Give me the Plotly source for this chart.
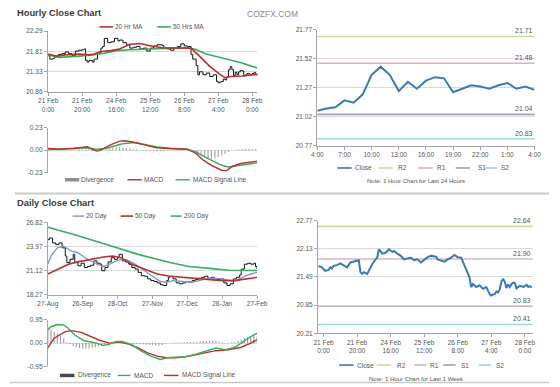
import plotly.graph_objects as go

W, H = 560, 387
FONT = "Arial, 'Liberation Sans', Helvetica, sans-serif"

# ---------------- data ----------------
# Hourly close, last week (hour index: 0 = 21 Feb 0:00, trading hours)
week_idx = [-3, -1, 1, 3, 4, 5, 6, 8, 10, 12, 14, 16, 18, 20, 21, 22, 23, 24, 26, 27,
            29, 31, 32, 33, 35, 37, 39, 41, 42, 44, 46, 48, 50, 52, 54, 56, 58, 60, 62, 64,
            67, 68, 70, 72, 74, 76, 78, 80, 82, 84, 85, 87, 88, 89, 91, 93, 95, 97, 99,
            100, 101, 102, 103, 104, 105, 106, 107, 108, 109, 110, 111, 112, 113, 114, 115,
            116, 117, 118, 119, 120, 121, 122, 123, 124]
week_close = [21.74, 21.71, 21.63, 21.65, 21.71, 21.68, 21.74, 21.76, 21.80, 21.76,
              21.71, 21.82, 21.84, 21.85, 21.87, 21.60, 21.56, 21.60, 21.56, 21.63,
              21.78, 21.89, 21.93, 22.12, 22.02, 22.04, 22.12, 22.06, 22.08, 22.02,
              21.97, 21.89, 21.91, 21.93, 21.87, 21.89, 21.82, 21.89, 21.94, 21.97,
              21.95, 21.89, 21.87, 21.84, 21.89, 21.93, 21.99, 21.94, 21.93, 21.74,
              21.63, 21.48, 21.26, 21.33, 21.26, 21.30, 21.22, 21.26, 21.10,
              21.07, 21.09, 21.10, 21.16, 21.14, 21.21, 21.38, 21.45, 21.38, 21.24,
              21.32, 21.26, 21.33, 21.36, 21.35, 21.23, 21.26, 21.29, 21.28, 21.26,
              21.29, 21.31, 21.26, 21.28, 21.25]
week_tickvals = [0, 20, 40, 60, 80, 100, 120]
week_ticktext = ["21 Feb<br>0:00", "21 Feb<br>20:00", "24 Feb<br>16:00", "25 Feb<br>12:00",
                 "26 Feb<br>8:00", "27 Feb<br>4:00", "28 Feb<br>0:00"]

ma20_idx = [0, 5, 10, 18, 24, 27, 31, 37, 42, 48, 54, 59, 67, 73, 80, 84, 90, 95, 101, 104, 107, 114, 123]
ma20_val = [21.75, 21.70, 21.73, 21.75, 21.73, 21.75, 21.81, 21.83, 21.87, 21.98, 22.00, 21.95,
            21.90, 21.90, 21.90, 21.89, 21.66, 21.46, 21.27, 21.19, 21.22, 21.23, 21.27]
ma50_idx = [0, 7, 18, 25, 33, 40, 48, 56, 61, 73, 80, 86, 93, 103, 114, 123]
ma50_val = [21.73, 21.67, 21.70, 21.72, 21.77, 21.83, 21.85, 21.87, 21.87, 21.89, 21.90, 21.87,
            21.75, 21.65, 21.54, 21.42]

hmacd_idx = [0, 6, 15, 23, 27, 29, 32, 36, 42, 45, 49, 57, 64, 72, 78, 82, 87, 91, 96, 102, 105, 108, 113, 123]
hmacd_val = [0.017, 0.010, 0.017, 0.034, 0.0, -0.010, 0.010, 0.05, 0.093, 0.096, 0.086, 0.05,
             0.024, 0.017, 0.017, 0.010, -0.034, -0.10, -0.155, -0.206, -0.21, -0.17, -0.137, -0.113]
hsig_idx = [0, 15, 23, 28, 34, 42, 45, 51, 57, 64, 72, 81, 87, 94, 102, 106, 113, 123]
hsig_val = [0.007, 0.014, 0.024, 0.010, 0.017, 0.058, 0.069, 0.079, 0.058, 0.034, 0.017, 0.010,
            -0.017, -0.086, -0.155, -0.172, -0.155, -0.13]
hdiv_idx = [0, 2, 4, 6, 8, 10, 12, 14, 16, 18, 20, 22, 24, 26, 28, 30, 32, 34, 36, 38, 40,
            42, 44, 46, 48, 50, 52, 54, 56, 58, 60, 62, 64, 66, 68, 70, 72, 74, 76, 78, 80,
            82, 84, 86, 88, 90, 92, 94, 96, 98, 100, 102, 104, 106, 108, 110, 112, 114, 116,
            118, 120, 122]
hdiv_val = [0.01, 0.005, 0.0, 0.005, 0.005, 0.0, 0.0, 0.0, 0.005, 0.005, 0.01, 0.01, 0.01,
            -0.01, -0.015, -0.01, 0.0, 0.01,
            0.02, 0.025, 0.03, 0.03, 0.028, 0.025, 0.02, 0.015, 0.01,
            0.0, -0.005, -0.01, -0.012, -0.015, -0.015, -0.012, -0.01, -0.005, 0.0, 0.0, 0.005, 0.005,
            0.0, -0.01, -0.02, -0.035, -0.05, -0.065, -0.075, -0.085, -0.09, -0.085, -0.07,
            -0.055, -0.04, -0.02, 0.0, 0.005, 0.01, 0.015, 0.015, 0.015, 0.015, 0.012]

# Last 24 hours (4:00 -> 4:00)
h24_idx = [0, 1, 2, 3, 4, 5, 6, 7, 8, 9, 10, 11, 12, 13, 14, 15, 16, 17, 18, 19, 20, 21, 22, 23, 24]
h24_close = [21.07, 21.09, 21.10, 21.16, 21.14, 21.21, 21.38, 21.45, 21.38, 21.24, 21.32, 21.26,
             21.33, 21.36, 21.35, 21.23, 21.26, 21.29, 21.28, 21.26, 21.29, 21.31, 21.26, 21.28, 21.25]
h24_tickvals = [0, 3, 6, 9, 12, 15, 18, 21, 24]
h24_ticktext = ["4:00", "7:00", "10:00", "13:00", "16:00", "19:00", "22:00", "1:00", "4:00"]

level_names = ["R2", "R1", "S1", "S2"]
level_colors = ["#cfd99a", "#dcb3bd", "#a39dbd", "#9ed5de"]
levels_24h = [21.71, 21.48, 21.04, 20.83]
levels_week = [22.64, 21.90, 20.83, 20.41]

# Daily (trading-day index: 0 = 27-Aug)
daily_idx = [0, 1, 3, 5, 7, 9, 11, 12, 14, 16, 17, 19, 21, 23, 25, 27, 29, 31, 33, 34,
             36, 38, 40, 42, 44, 45, 47, 49, 51, 53, 55, 57, 59, 61, 63, 65, 67, 69, 71, 73,
             75, 76, 77, 79, 81, 83, 85, 87, 89, 91, 93, 95, 97, 99, 101, 103, 105, 107, 109, 111,
             113, 115, 117, 119, 121, 122, 124, 126, 128, 130, 131, 132]
daily_close = [24.77, 24.96, 24.38, 24.19, 24.38, 23.80, 22.84, 22.06, 22.45, 23.03,
               22.06, 21.67, 21.98, 21.48, 21.60, 21.75, 22.26, 21.98, 21.87, 21.09,
               21.48, 22.14, 22.64, 22.45, 22.64, 23.03, 22.26, 22.14, 21.87, 21.48,
               21.29, 20.90, 20.51, 20.44, 20.13, 19.93, 19.82, 19.66, 19.43, 19.35,
               19.93, 20.32, 20.44, 20.13, 19.66, 19.55, 19.66, 19.82, 19.74, 19.93,
               20.05, 20.20, 20.32, 20.44, 20.20, 20.32, 20.13, 20.05, 20.13, 19.66,
               19.35, 19.55, 20.13, 20.32, 20.59, 21.29, 21.87, 21.98, 21.87, 21.98,
               21.60, 21.29]
daily_tickvals = [0, 22, 44, 66, 88, 110, 132]
daily_ticktext = ["27-Aug", "26-Sep", "28-Oct", "27-Nov", "27-Dec", "28-Jan", "27-Feb"]

d20_idx = [0, 2, 6, 10, 15, 19, 25, 31, 35, 39, 43, 47, 50, 55, 61, 67, 71, 75, 79, 85, 91, 98,
           104, 110, 116, 120, 124, 128, 132]
d20_val = [21.87, 22.84, 23.80, 23.99, 23.42, 23.22, 22.45, 21.87, 21.60, 21.87, 22.26, 22.45,
           22.37, 21.87, 21.09, 20.32, 19.82, 19.74, 19.93, 19.82, 19.74, 20.05, 20.20, 20.13,
           19.93, 20.05, 20.44, 20.71, 20.90]
d50_idx = [0, 6, 13, 19, 27, 35, 41, 46, 53, 61, 69, 77, 85, 93, 102, 110, 118, 126, 132]
d50_val = [20.71, 21.29, 21.87, 22.14, 22.45, 22.72, 22.84, 22.64, 21.87, 21.29, 20.71, 20.44,
           20.32, 20.20, 20.05, 19.93, 19.93, 20.13, 20.32]
d200_idx = [0, 17, 37, 57, 77, 89, 102, 114, 132]
d200_val = [26.24, 25.35, 24.19, 23.03, 22.06, 21.60, 21.37, 21.15, 21.12]

dmacd_idx = [0, 2, 6, 10, 13, 17, 23, 29, 35, 39, 43, 47, 53, 59, 65, 71, 75, 81, 87, 94, 100,
             106, 112, 118, 122, 128, 132]
dmacd_val = [0.535, 0.67, 0.76, 0.74, 0.60, 0.33, 0.094, 0.027, -0.094, -0.04, 0.067, 0.067,
             -0.067, -0.33, -0.535, -0.67, -0.60, -0.575, -0.56, -0.44, -0.33, -0.20, -0.27,
             -0.17, 0.0, 0.27, 0.40]
dsig_idx = [0, 4, 11, 15, 21, 27, 33, 39, 45, 51, 57, 63, 69, 75, 81, 89, 98, 106, 114, 122, 128, 132]
dsig_val = [-0.20, 0.20, 0.47, 0.51, 0.44, 0.27, 0.107, 0.0, 0.04, -0.04, -0.20, -0.40, -0.535,
            -0.60, -0.60, -0.535, -0.43, -0.31, -0.27, -0.17, 0.0, 0.134]
ddiv_idx = [0, 2, 4, 6, 8, 10, 12, 14, 16, 18, 20, 22, 24, 26, 28, 30, 32, 34, 36, 38, 40,
            42, 44, 46, 48, 50, 52, 54, 56, 58, 60, 62, 64, 66, 68, 70, 72, 74, 76, 78, 80,
            82, 84, 86, 88, 90, 92, 94, 96, 98, 100, 102, 104, 106, 108, 110, 112, 114, 116,
            118, 120, 122, 124, 126, 128, 130, 132]
ddiv_val = [0.70, 0.55, 0.45, 0.38, 0.30, 0.20, 0.05, -0.05, -0.12, -0.17,
            -0.20, -0.22, -0.22, -0.21, -0.19, -0.17, -0.14, -0.12, -0.08, -0.04,
            0.02, 0.04, 0.05, 0.05, 0.03, 0.01, -0.01, -0.03, -0.04, -0.05,
            -0.06, -0.07, -0.08, -0.09, -0.10, -0.11, -0.08, -0.03, 0.0, 0.01,
            0.02, 0.02, 0.03, 0.03, 0.04, 0.05, 0.06, 0.06, 0.07, 0.08,
            0.09, 0.10, 0.11, 0.10, 0.07, 0.03, 0.0, 0.01, 0.03, 0.05,
            0.10, 0.15, 0.20, 0.24, 0.27, 0.28, 0.27]

# ---------------- helpers ----------------
def px(x):
    return x / W


def py(y):
    return 1 - y / H


GRID = "#d9d9d9"
AXL = "#a6a6a6"
TXT = "#555555"

RED = "#b8302d"
GREEN = "#38ad5a"
BLUE = "#3a79b6"
STEEL = "#7f9cc6"


def yax(dom, rng, vals, texts, anchor):
    return dict(domain=dom, range=rng, tickvals=vals, ticktext=texts, showgrid=True,
                gridcolor=GRID, gridwidth=1, zeroline=False, showline=True, linecolor=AXL,
                linewidth=1, ticks="outside", ticklen=3, tickcolor=AXL,
                tickfont=dict(size=6.5, color=TXT, family=FONT), anchor=anchor, fixedrange=True)


def xax(dom, rng, vals, texts, anchor, labels=True):
    d = dict(domain=dom, range=rng, showgrid=False, zeroline=False, anchor=anchor, fixedrange=True,
             tickfont=dict(size=6.5, color=TXT, family=FONT))
    if labels:
        d.update(tickvals=vals, ticktext=texts, showline=True, linecolor=AXL, linewidth=1,
                 ticks="outside", ticklen=3, tickcolor=AXL)
    else:
        d.update(showticklabels=False, showline=False, ticks="")
    return d


fig = go.Figure()

# --- top-left: hourly close with MAs ---
fig.add_trace(go.Scatter(x=week_idx, y=week_close, mode="lines", line=dict(color="#111111", width=1, shape="hv"),
                         xaxis="x", yaxis="y", showlegend=False))
fig.add_trace(go.Scatter(x=ma50_idx, y=ma50_val, mode="lines", line=dict(color=GREEN, width=1.6),
                         xaxis="x", yaxis="y", name="50 Hrs MA", showlegend=False))
fig.add_trace(go.Scatter(x=ma20_idx, y=ma20_val, mode="lines", line=dict(color=RED, width=1.6),
                         xaxis="x", yaxis="y", name="20 Hr MA", showlegend=False))

# --- top-left MACD ---
fig.add_trace(go.Bar(x=hdiv_idx, y=hdiv_val, marker_color="#a9a9a9", marker_line_width=0, width=0.7,
                     xaxis="x2", yaxis="y2", name="Divergence", showlegend=False))
fig.add_trace(go.Scatter(x=hsig_idx, y=hsig_val, mode="lines", line=dict(color=GREEN, width=1.4),
                         xaxis="x2", yaxis="y2", name="MACD Signal Line", showlegend=False))
fig.add_trace(go.Scatter(x=hmacd_idx, y=hmacd_val, mode="lines", line=dict(color=RED, width=1.4),
                         xaxis="x2", yaxis="y2", name="MACD", showlegend=False))

# --- top-right: last 24 hours ---
fig.add_trace(go.Scatter(x=h24_idx, y=h24_close, mode="lines", line=dict(color=BLUE, width=2),
                         xaxis="x3", yaxis="y3", name="Close", showlegend=False))

# --- bottom-left: daily ---
fig.add_trace(go.Scatter(x=daily_idx, y=daily_close, mode="lines", line=dict(color="#111111", width=1, shape="hv"),
                         xaxis="x4", yaxis="y4", showlegend=False))
fig.add_trace(go.Scatter(x=d20_idx, y=d20_val, mode="lines", line=dict(color=STEEL, width=1.4),
                         xaxis="x4", yaxis="y4", name="20 Day", showlegend=False))
fig.add_trace(go.Scatter(x=d50_idx, y=d50_val, mode="lines", line=dict(color=RED, width=1.6),
                         xaxis="x4", yaxis="y4", name="50 Day", showlegend=False))
fig.add_trace(go.Scatter(x=d200_idx, y=d200_val, mode="lines", line=dict(color=GREEN, width=1.6),
                         xaxis="x4", yaxis="y4", name="200 Day", showlegend=False))

# --- bottom-left MACD ---
fig.add_trace(go.Bar(x=ddiv_idx, y=ddiv_val, marker_color="#9a9a9a", marker_line_width=0, width=0.7,
                     xaxis="x5", yaxis="y5", name="Divergence", showlegend=False))
fig.add_trace(go.Scatter(x=dsig_idx, y=dsig_val, mode="lines", line=dict(color=RED, width=1.4),
                         xaxis="x5", yaxis="y5", name="MACD Signal Line", showlegend=False))
fig.add_trace(go.Scatter(x=dmacd_idx, y=dmacd_val, mode="lines", line=dict(color=GREEN, width=1.4),
                         xaxis="x5", yaxis="y5", name="MACD", showlegend=False))

# --- bottom-right: last week ---
fig.add_trace(go.Scatter(x=week_idx, y=week_close, mode="lines", line=dict(color=BLUE, width=2),
                         xaxis="x6", yaxis="y6", name="Close", showlegend=False))

# support / resistance levels
for ax, levels in (("3", levels_24h), ("6", levels_week)):
    for lvl, col in zip(levels, level_colors):
        fig.add_shape(type="line", xref=f"x{ax} domain", yref=f"y{ax}", x0=0, x1=1, y0=lvl, y1=lvl,
                      line=dict(color=col, width=1.6), layer="below")
        fig.add_annotation(xref=f"x{ax} domain", yref=f"y{ax}", x=1, y=lvl, text=f"{lvl:.2f}",
                           showarrow=False, xanchor="right", yanchor="bottom", yshift=0,
                           font=dict(size=7, color=TXT, family=FONT))

fig.update_layout(
    width=W, height=H, autosize=False,
    margin=dict(l=0, r=0, t=0, b=0),
    paper_bgcolor="white", plot_bgcolor="white",
    font=dict(family=FONT, size=7, color=TXT),
    barmode="overlay",
    xaxis=xax([px(39.3), px(257)], [-0.2, 123], week_tickvals, week_ticktext, "y"),
    yaxis=yax([py(89.3), py(27.7)], [20.86, 22.29], [20.86, 21.33, 21.81, 22.29],
              ["20.86", "21.33", "21.81", "22.29"], "x"),
    xaxis2=xax([px(39.3), px(257)], [-0.2, 123], None, None, "y2", labels=False),
    yaxis2=yax([py(171.7), py(126)], [-0.23, 0.23], [-0.23, 0.0, 0.23],
               ["-0.23", "0.00", "0.23"], "x2"),
    xaxis3=xax([px(319.3), px(545)], [0, 24], h24_tickvals, h24_ticktext, "y3"),
    yaxis3=yax([py(144.3), py(26)], [20.77, 21.77], [20.77, 21.02, 21.27, 21.52, 21.77],
               ["20.77", "21.02", "21.27", "21.52", "21.77"], "x3"),
    xaxis4=xax([px(39.3), px(256.7)], [0, 132], daily_tickvals, daily_ticktext, "y4"),
    yaxis4=yax([py(296), py(222.3)], [18.27, 26.82], [18.27, 21.12, 23.97, 26.82],
               ["18.27", "21.12", "23.97", "26.82"], "x4"),
    xaxis5=xax([px(39.3), px(256.7)], [0, 132], None, None, "y5", labels=False),
    yaxis5=yax([py(369), py(321.7)], [-0.95, 0.95], [-0.95, 0.0, 0.95],
               ["-0.95", "0.00", "0.95"], "x5"),
    xaxis6=xax([px(320), px(543)], [-3.3, 124.6], week_tickvals, week_ticktext, "y6"),
    yaxis6=yax([py(335.3), py(220.7)], [20.21, 22.77], [20.21, 20.85, 21.49, 22.13, 22.77],
               ["20.21", "20.85", "21.49", "22.13", "22.77"], "x6"),
)


# ---------------- titles, legends, notes ----------------
def text(x, y, s, size=6.5, color=TXT, anchor="left", bold=False):
    fig.add_annotation(xref="paper", yref="paper", x=px(x), y=py(y), text=(f"<b>{s}</b>" if bold else s),
                       showarrow=False, xanchor=anchor, yanchor="middle",
                       font=dict(size=size, color=color, family=FONT), borderpad=0)


def leg(x0, x1, y, color, width, label, tx):
    fig.add_shape(type="line", xref="paper", yref="paper", x0=px(x0), x1=px(x1), y0=py(y), y1=py(y),
                  line=dict(color=color, width=width))
    text(tx, y, label)


text(6, 9.5, "Hourly Close Chart", size=9.3, color="#3a3a3a", bold=True)
text(6, 202.5, "Daily Close Chart", size=9.3, color="#3a3a3a", bold=True)
text(273, 10, "COZFX.COM", size=8.5, color="#8a8a8a", anchor="center")

# top-left legends
leg(93, 107, 23.3, RED, 1.6, "20 Hr MA", 108)
leg(153, 167, 23.3, GREEN, 1.6, "50 Hrs MA", 168)
leg(57, 72, 179, "#8f8f8f", 3.5, "Divergence", 73)
leg(122, 137, 179, RED, 1.4, "MACD", 138)
leg(172, 187, 179, GREEN, 1.4, "MACD Signal Line", 189)

# top-right legend
for (x0, x1, tx, col, lab) in ((340, 355, 357, BLUE, "Close"), (383, 398, 402, level_colors[0], "R2"),
                               (424, 439, 443, level_colors[1], "R1"), (463, 478, 485, level_colors[2], "S1"),
                               (494, 506, 509, level_colors[3], "S2")):
    leg(x0, x1, 167, col, 1.6, lab, tx)
text(422, 180, "Note: 1 Hour Chart for Last 24 Hours", size=6, anchor="center")

# daily legends
leg(65, 77, 216, STEEL, 1.4, "20 Day", 78)
leg(115, 128, 216, RED, 1.6, "50 Day", 129)
leg(167, 178, 216, GREEN, 1.6, "200 Day", 180)
leg(52, 67, 378.3, "#4a4a4a", 3.5, "Divergence", 70)
leg(112, 125, 378.3, GREEN, 1.4, "MACD", 128)
leg(160, 175, 378.3, RED, 1.4, "MACD Signal Line", 178)

# bottom-right legend
for (x0, x1, tx, col, lab) in ((342, 357, 359, BLUE, "Close"), (381, 396, 401, level_colors[0], "R2"),
                               (420, 433, 435, level_colors[1], "R1"), (450, 463, 468, level_colors[2], "S1"),
                               (487, 500, 504, level_colors[3], "S2")):
    leg(x0, x1, 367.7, col, 1.6, lab, tx)
text(422, 381.7, "Note: 1 Hour Chart for Last 1 Week", size=6, anchor="center")

# separators
fig.add_shape(type="line", xref="paper", yref="paper", x0=px(5), x1=1, y0=py(193), y1=py(193),
              line=dict(color="#c9c9c9", width=2))
fig.add_shape(type="line", xref="paper", yref="paper", x0=0, x1=1, y0=py(385.5), y1=py(385.5),
              line=dict(color="#c9c9c9", width=1.5))

fig.write_html("out.html", config={"displayModeBar": False, "staticPlot": True},
               post_script="document.body.style.margin='0';document.body.style.overflow='hidden';")
